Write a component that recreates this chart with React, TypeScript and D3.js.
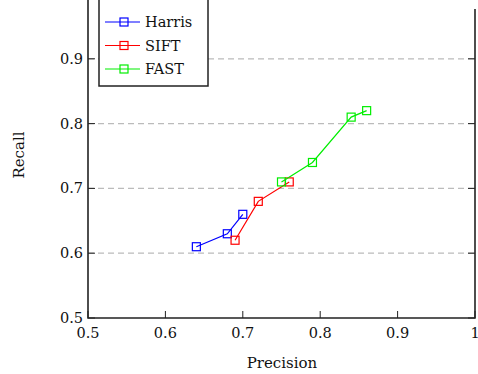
import React from "react";
import { scaleLinear, line } from "d3";

const harrisX = [0.64, 0.68, 0.7];
const harrisY = [0.61, 0.63, 0.66];
const siftX = [0.69, 0.72, 0.76];
const siftY = [0.62, 0.68, 0.71];
const fastX = [0.75, 0.79, 0.84, 0.86];
const fastY = [0.71, 0.74, 0.81, 0.82];
const xTicks = [0.5, 0.6, 0.7, 0.8, 0.9, 1];
const yTicks = [0.5, 0.6, 0.7, 0.8, 0.9];
const gridY = [0.6, 0.7, 0.8, 0.9];

const series = [
  { name: "Harris", color: "#0000ff", xs: harrisX, ys: harrisY },
  { name: "SIFT", color: "#ff0000", xs: siftX, ys: siftY },
  { name: "FAST", color: "#00ee00", xs: fastX, ys: fastY },
];

const W = 478;
const H = 374;
const font = "'DejaVu Serif', serif";

export default function App() {
  const x = scaleLinear().domain([0.5, 1]).range([88, 475]);
  const y = scaleLinear().domain([0.5, 1]).range([318, -6]);
  const path = line<[number, number]>()
    .x((d) => x(d[0]))
    .y((d) => y(d[1]));
  const fmt = (v: number) => (v === 1 ? "1" : v.toFixed(1));
  const x0 = x(0.5);
  const x1 = x(1);
  const y0 = y(0.5);

  return (
    <svg
      width={W}
      height={H}
      style={{ position: "absolute", left: 0, top: 0, background: "#fff" }}
    >
      {gridY.map((v) => (
        <line
          key={v}
          x1={x0}
          x2={x1}
          y1={y(v)}
          y2={y(v)}
          stroke="#bbb"
          strokeWidth={1.2}
          strokeDasharray="6,4"
        />
      ))}
      {/* frame: left, bottom, right */}
      <path
        d={`M${x0},0V${y0}H${x1}V9`}
        fill="none"
        stroke="#222"
        strokeWidth={1.6}
      />
      {xTicks.map((v) => (
        <g key={v}>
          <line x1={x(v)} x2={x(v)} y1={y0} y2={y0 - 7} stroke="#222" />
          <text
            x={x(v)}
            y={y0 + 20}
            textAnchor="middle"
            fontFamily={font}
            fontSize={14.5}
            fill="#111"
          >
            {fmt(v)}
          </text>
        </g>
      ))}
      {yTicks.map((v) => (
        <g key={v}>
          <line x1={x0} x2={x0 + 7} y1={y(v)} y2={y(v)} stroke="#222" />
          <line x1={x1} x2={x1 - 7} y1={y(v)} y2={y(v)} stroke="#222" />
          <text
            x={x0 - 5}
            y={y(v) + 5}
            textAnchor="end"
            fontFamily={font}
            fontSize={14.5}
            fill="#111"
          >
            {fmt(v)}
          </text>
        </g>
      ))}
      <text
        x={282}
        y={368}
        textAnchor="middle"
        fontFamily={font}
        fontSize={15}
        fill="#111"
      >
        Precision
      </text>
      <text
        transform="translate(24,155) rotate(-90)"
        textAnchor="middle"
        fontFamily={font}
        fontSize={15}
        fill="#111"
      >
        Recall
      </text>
      {series.map((s) => {
        const pts = s.xs.map((v, i) => [v, s.ys[i]] as [number, number]);
        return (
          <g key={s.name}>
            <path d={path(pts) || ""} fill="none" stroke={s.color} strokeWidth={1.2} />
            {pts.map((p, i) => (
              <rect
                key={i}
                x={x(p[0]) - 4}
                y={y(p[1]) - 4}
                width={8}
                height={8}
                fill="none"
                stroke={s.color}
                strokeWidth={1.2}
              />
            ))}
          </g>
        );
      })}
      {/* legend */}
      <rect x={99} y={-10} width={109} height={96} fill="#fff" stroke="#222" strokeWidth={1.5} />
      {series.map((s, i) => {
        const ly = 22 + i * 23.5;
        return (
          <g key={s.name}>
            <line x1={105} x2={140} y1={ly} y2={ly} stroke={s.color} strokeWidth={1.2} />
            <rect x={120} y={ly - 4} width={8} height={8} fill="none" stroke={s.color} strokeWidth={1.2} />
            <text x={145} y={ly + 5} fontFamily={font} fontSize={14.5} fill="#111">
              {s.name}
            </text>
          </g>
        );
      })}
    </svg>
  );
}
